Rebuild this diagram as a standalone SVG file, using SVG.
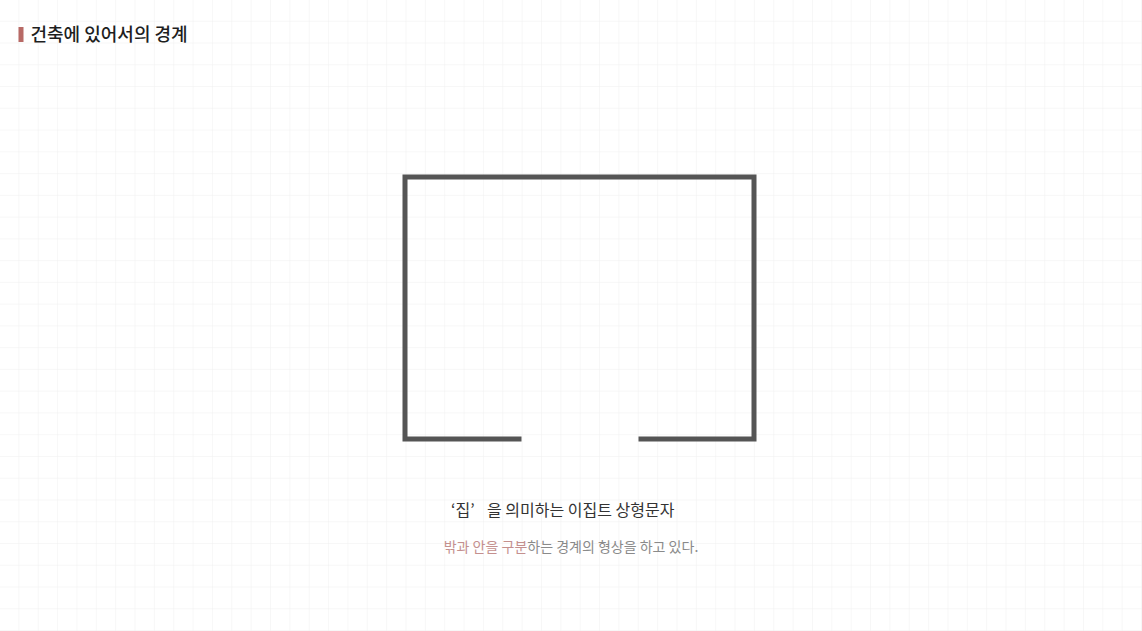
<svg xmlns="http://www.w3.org/2000/svg" width="1142" height="631" viewBox="0 0 1142 631">
<defs>
<pattern id="grid" x="0" y="0" width="19.356" height="21.759" patternUnits="userSpaceOnUse">
<path d="M19.356 0 V21.759 M0 21.759 H19.356" fill="none" stroke="#efefef" stroke-width="1"/>
</pattern>
<style>
.ko{font-family:"Noto Sans CJK KR","Noto Sans",sans-serif;}
.title{font-size:18px;font-weight:500;fill:#1e1e1e;}
.cap{font-size:16px;fill:#333;}
.sub{font-size:14px;fill:#8a8a8a;}
.hl{fill:#c4908e;}
.wall{fill:none;stroke:#555555;stroke-width:5;stroke-linejoin:miter;stroke-linecap:butt;}
</style>
</defs>
<rect width="1142" height="631" fill="#ffffff"/>
<rect width="1142" height="631" fill="url(#grid)"/>
<g id="title">
<rect x="18.5" y="27" width="5" height="15" fill="#b86a66"/>
<text class="ko title" x="30.5" y="41">건축에 있어서의 경계</text>
</g>
<g id="hieroglyph">
<path class="wall" d="M521.5 439 H405 V177 H754 V439 H638.5"/>
</g>
<g id="caption">
<text class="ko cap" y="516"><tspan x="451">‘집’</tspan><tspan x="487">을 의미하는 이집트 상형문자</tspan></text>
<text class="ko sub" x="571" y="552" text-anchor="middle"><tspan class="hl">밖과 안을 구분</tspan>하는 경계의 형상을 하고 있다.</text>
</g>
</svg>
